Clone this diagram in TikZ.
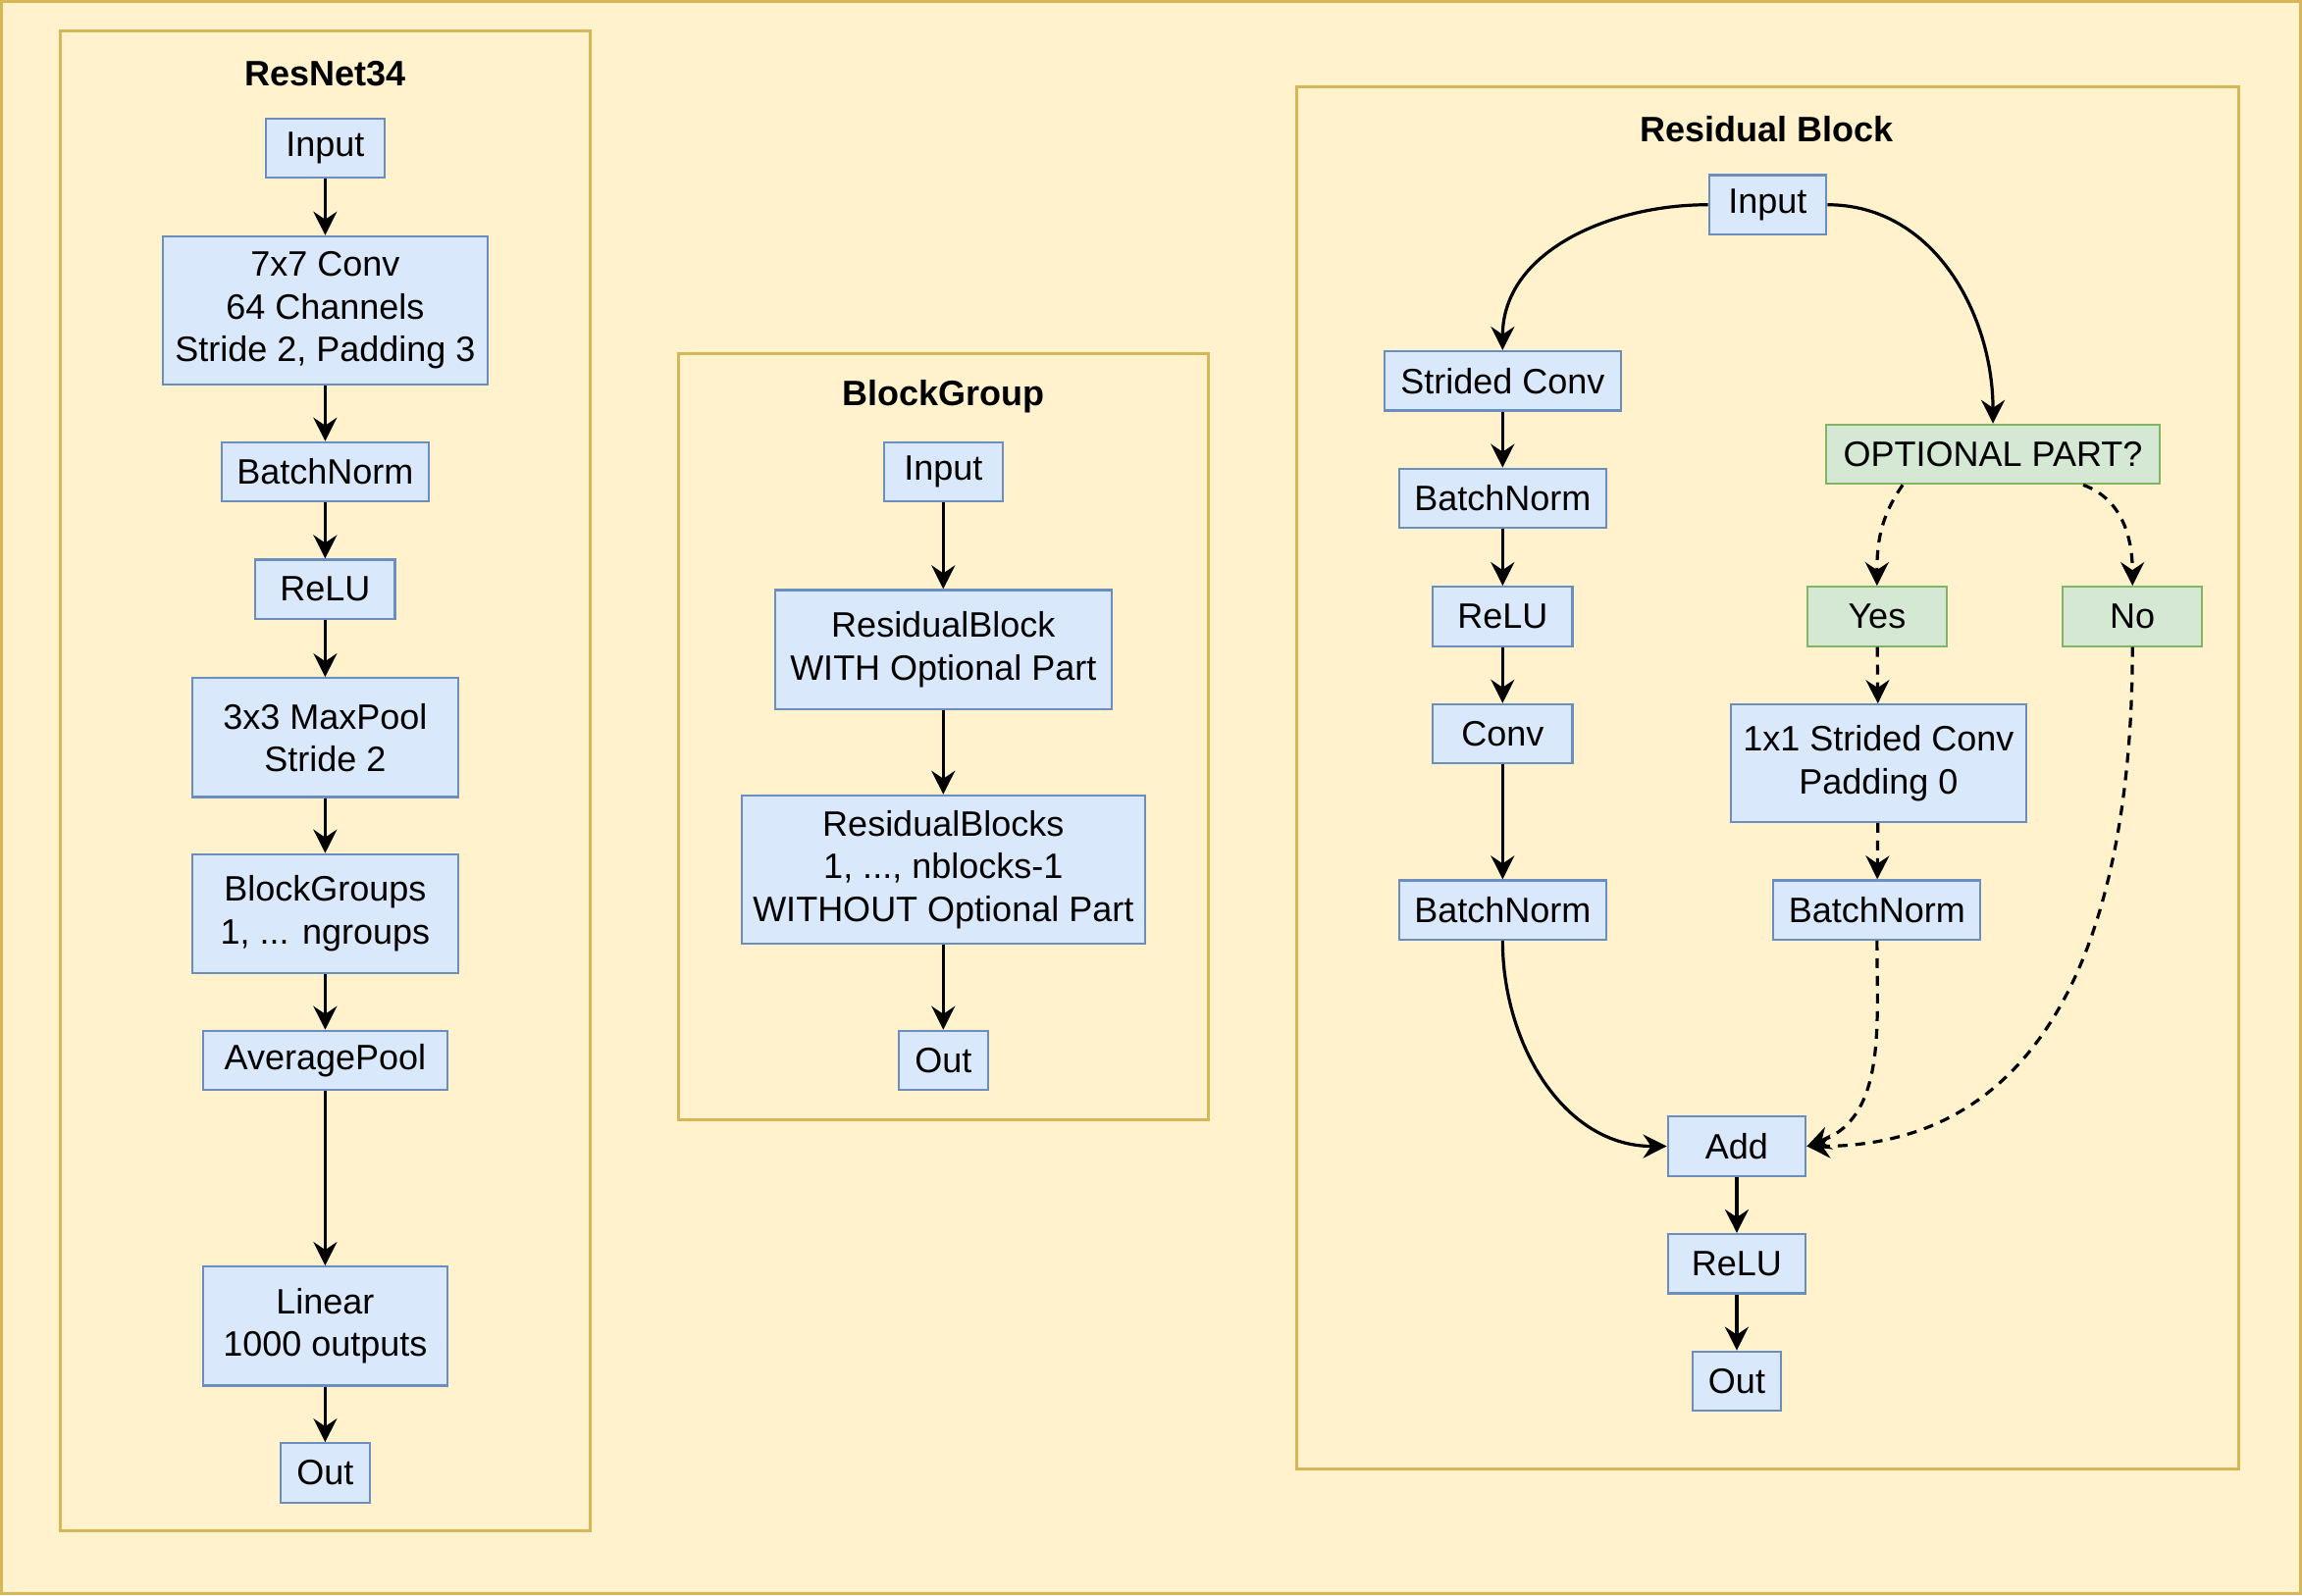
\documentclass[tikz,border=0pt]{standalone}
\usepackage{fontspec}
\setmainfont{Liberation Sans}
\usetikzlibrary{arrows.meta}
\definecolor{boxfill}{HTML}{DAE8FC}
\definecolor{boxline}{HTML}{6C8EBF}
\definecolor{grnfill}{HTML}{D5E8D4}
\definecolor{grnline}{HTML}{82B366}
\definecolor{yelfill}{HTML}{FFF2CC}
\definecolor{yelline}{HTML}{D6B656}
\begin{document}
\begin{tikzpicture}[
        x=0.7481pt, y=-0.7481pt,
        box/.style={draw=boxline, fill=boxfill, line width=1.1pt, minimum height=30.2pt,
            inner sep=0pt, align=center, font=\fontsize{18}{21.7}\selectfont},
        grn/.style={box, draw=grnline, fill=grnfill},
        ttl/.style={inner sep=0pt, font=\fontsize{18}{21.7}\selectfont\bfseries},
        panel/.style={draw=yelline, fill=yelfill, line width=1.5pt},
        ar/.style={-{Stealth[length=12pt, width=12pt, inset=4pt]}, line width=1.6pt},
        dar/.style={ar, dash pattern=on 5pt off 4pt},
    ]

    \useasboundingbox (0,0) rectangle (1568,1087);
    \draw[panel] (1,1) rectangle (1567,1086);
    \draw[panel] (41,21) rectangle (402,1043);
    \draw[panel] (462,241) rectangle (823,763);
    \draw[panel] (883,59) rectangle (1525,1001);

    \node[ttl](t1) at (221.5,50) {ResNet34};
    \node[ttl](t2) at (642.5,270) {BlockGroup};
    \node[ttl](t3) at (1203.5,88) {Residual Block};

    \node[box, minimum width=60.6pt](rin) at (221.5,101) {Input};
    \node[box, minimum width=165.3pt, minimum height=75.6pt](conv7) at (221.5,211.5) {7x7 Conv\\64 Channels\\Stride 2, Padding 3};
    \node[box, minimum width=105.5pt](rbn) at (221.5,321.5) {BatchNorm};
    \node[box, minimum width=71.1pt](rrelu) at (221.5,401.5) {ReLU};
    \node[box, minimum width=135.4pt, minimum height=60.6pt](pool) at (221.5,502.5) {3x3 MaxPool\\Stride 2};
    \node[box, minimum width=135.4pt, minimum height=60.6pt](groups) at (221.5,622.5) {BlockGroups\\1, ... ngroups};
    \node[box, minimum width=124.2pt](avg) at (221.5,722.5) {AveragePool};
    \node[box, minimum width=124.2pt, minimum height=60.6pt](linear) at (221.5,903.5) {Linear\\1000 outputs};
    \node[box, minimum width=45.6pt](rout) at (221.5,1003.5) {Out};

    \node[box, minimum width=60.6pt](gin) at (642.5,321.5) {Input};
    \node[box, minimum width=171.3pt, minimum height=60.6pt](rb1) at (642.5,442.5) {ResidualBlock\\WITH Optional Part};
    \node[box, minimum width=205.7pt, minimum height=75.6pt](rbs) at (642.5,592.5) {ResidualBlocks\\1, ..., nblocks-1\\WITHOUT Optional Part};
    \node[box, minimum width=45.6pt](gout) at (642.5,722.5) {Out};

    \node[box, minimum width=59.8pt](bin) at (1204,139.5) {Input};
    \node[box, minimum width=120.4pt](sconv) at (1023.5,259.5) {Strided Conv};
    \node[box, minimum width=105.5pt](bn1) at (1023.5,339.5) {BatchNorm};
    \node[box, minimum width=71.1pt](relu1) at (1023.5,420) {ReLU};
    \node[box, minimum width=71.1pt](conv) at (1023.5,500) {Conv};
    \node[box, minimum width=105.5pt](bn2) at (1023.5,620) {BatchNorm};
    \node[grn, minimum width=169.8pt](opt) at (1357.5,309.5) {OPTIONAL PART?};
    \node[grn, minimum width=71.1pt](yes) at (1278.5,420) {Yes};
    \node[grn, minimum width=71.1pt](no) at (1452.5,420) {No};
    \node[box, minimum width=150.4pt, minimum height=59.8pt](conv1) at (1279.5,520) {1x1 Strided Conv\\Padding 0};
    \node[box, minimum width=105.5pt](bn3) at (1278.5,620) {BatchNorm};
    \node[box, minimum width=70.3pt](add) at (1183,781) {Add};
    \node[box, minimum width=70.3pt](relu2) at (1183,861) {ReLU};
    \node[box, minimum width=44.9pt](bout) at (1183,941) {Out};

    \draw[ar] (rin) to (conv7);
    \draw[ar] (conv7) to (rbn);
    \draw[ar] (rbn) to (rrelu);
    \draw[ar] (rrelu) to (pool);
    \draw[ar] (pool) to (groups);
    \draw[ar] (groups) to (avg);
    \draw[ar] (avg) to (linear);
    \draw[ar] (linear) to (rout);

    \draw[ar] (gin) to (rb1);
    \draw[ar] (rb1) to (rbs);
    \draw[ar] (rbs) to (gout);

    \draw[ar] (bin.west) to[out=180, in=90] (sconv.north);
    \draw[ar] (bin.east) to[out=0, in=90] (opt.north);
    \draw[ar] (sconv) to (bn1);
    \draw[ar] (bn1) to (relu1);
    \draw[ar] (relu1) to (conv);
    \draw[ar] (conv) to (bn2);
    \draw[dar] ([xshift=-46pt]opt.south) to[out=-125, in=90] (yes.north);
    \draw[dar] ([xshift=46pt]opt.south) to[out=-20, in=90] (no.north);
    \draw[dar] (yes) to (conv1);
    \draw[dar] (conv1) to (bn3);
    \draw[ar] (bn2.south) to[out=-90, in=180] (add.west);
    \draw[dar] (bn3.south) to[out=-90, in=20] (add.east);
    \draw[dar] (no.south) to[out=-90, in=0, looseness=1.1] (add.east);
    \draw[ar] (add) to (relu2);
    \draw[ar] (relu2) to (bout);


    \end{tikzpicture}
\end{document}
